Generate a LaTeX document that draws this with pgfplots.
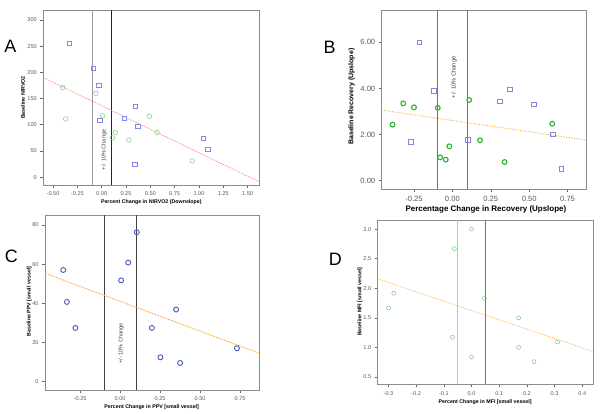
\documentclass[border=0pt]{standalone}
\usepackage{pgfplots}
\pgfplotsset{compat=1.18}
\usepackage{fontspec}
\setmainfont{Liberation Sans}
\definecolor{sqA}{RGB}{135,135,235}
\definecolor{cirA}{RGB}{115,210,115}
\definecolor{pinkA}{RGB}{255,120,135}
\definecolor{sqB}{RGB}{135,135,215}
\definecolor{cirB}{RGB}{40,180,40}
\definecolor{orng}{RGB}{255,170,60}
\definecolor{cirC}{RGB}{70,90,190}
\definecolor{cirD}{RGB}{115,205,115}
\pgfplotsset{
  spss/.style={scale only axis, anchor=south west,
    axis line style={draw=black!45, line width=0.6pt},
    tick align=outside, major tick length=3bp,
    xtick pos=bottom, ytick pos=left,
    tick style={black!60, line width=0.5pt},
    ticklabel style={font=\fontsize{5.6}{6}\selectfont, text=black!65},
    label style={font=\fontsize{5.3}{6}\selectfont\bfseries},
    xticklabel style={yshift=-0.5bp},
  },
}
\begin{document}
\begin{tikzpicture}
\useasboundingbox (0,0) rectangle (600bp,414bp);

% ---------------- A ----------------
\begin{axis}[spss, at={(43.3bp,229bp)}, width=216bp, height=175bp,
  xmin=-0.6, xmax=1.62, ymin=-15, ymax=319,
  xtick={-0.5,-0.25,0,0.25,0.5,0.75,1,1.25,1.5},
  xticklabels={-0.50,-0.25,0.00,0.25,0.50,0.75,1.00,1.25,1.50},
  ytick={0,50,100,150,200,250,300},
  yticklabels={0,50,100,150,200,250,300},
  xlabel={Percent Change in NIRVO2 (Downslope)},
  ylabel={Baseline NIRVO2},
  xlabel style={at={(axis description cs:0.5,-0.097)}, anchor=center},
  ylabel style={at={(axis description cs:-0.094,0.5)}, anchor=center},
]
\addplot[draw=black!40, line width=0.6pt] coordinates {(-0.1,-15) (-0.1,319)};
\addplot[draw=black!85, line width=0.7pt] coordinates {(0.1,-15) (0.1,319)};
\addplot[draw=pinkA, line width=0.6pt, dash pattern=on 1.5pt off 1pt] coordinates {(-0.6,190) (1.62,-9)};
\addplot[only marks, mark=square, mark size=2.1pt, draw=sqA, mark options={line width=0.5pt}] coordinates {
 (-0.33,255) (-0.09,208) (-0.03,175) (-0.02,109) (0.345,136) (0.23,113) (0.37,97) (0.34,25) (1.04,75) (1.09,53)};
\addplot[only marks, mark=o, mark size=2.3pt, draw=cirA, mark options={line width=0.5pt}] coordinates {
 (-0.40,171) (-0.37,111) (-0.06,160) (0.01,117) (0.14,85) (0.11,75) (0.28,71) (0.49,116) (0.57,85) (0.93,31)};
\node[rotate=90, font=\fontsize{5.6}{6}\selectfont, text=black!75] at (axis cs:0.025,52) {+/- 10\% Change};
\end{axis}

% ---------------- B ----------------
\begin{axis}[spss, at={(381.7bp,225bp)}, width=204.3bp, height=179bp,
  xmin=-0.46, xmax=0.87, ymin=-0.36, ymax=7.4,
  xtick={-0.25,0,0.25,0.5,0.75},
  xticklabels={-0.25,0.00,0.25,0.50,0.75},
  ytick={0,2,4,6},
  yticklabels={0.00,2.00,4.00,6.00},
  ticklabel style={font=\fontsize{7.6}{8}\selectfont, text=black!65},
  xlabel={Percentage Change in Recovery (Upslope)},
  ylabel={Baseline Recovery (Upslope)},
  xlabel style={font=\fontsize{8}{9}\selectfont\bfseries, at={(axis description cs:0.51,-0.112)}, anchor=center},
  ylabel style={font=\fontsize{7}{8}\selectfont\bfseries, at={(axis description cs:-0.147,0.516)}, anchor=center},
]
\addplot[draw=black!55, line width=0.6pt] coordinates {(-0.1,-0.36) (-0.1,7.4)};
\addplot[draw=black!55, line width=0.6pt] coordinates {(0.1,-0.36) (0.1,7.4)};
\addplot[draw=orng, line width=1pt, dash pattern=on 1pt off 1.6pt] coordinates {(-0.46,3.06) (0.87,1.76)};
\addplot[only marks, mark=square, mark size=2.3pt, draw=sqB, mark options={line width=0.5pt}] coordinates {
 (-0.215,6.0) (-0.12,3.89) (-0.27,1.68) (0.10,1.78) (0.31,3.44) (0.375,3.96) (0.53,3.31) (0.655,2.02) (0.71,0.53)};
\addplot[only marks, mark=o, mark size=2.4pt, draw=cirB, mark options={line width=1.1pt}] coordinates {
 (-0.39,2.43) (-0.32,3.35) (-0.25,3.18) (-0.095,3.16) (0.11,3.5) (-0.08,1.01) (-0.043,0.91) (-0.02,1.49) (0.18,1.75) (0.34,0.81) (0.65,2.47)};
\node[rotate=90, font=\fontsize{5.8}{6}\selectfont, text=black!75] at (axis cs:0.012,4.48) {+/- 10\% Change};
\end{axis}

% ---------------- C ----------------
\begin{axis}[spss, at={(45bp,24bp)}, width=214.3bp, height=175bp,
  xmin=-0.47, xmax=0.87, ymin=-4.3, ymax=85.1,
  xtick={-0.25,0,0.25,0.5,0.75},
  xticklabels={-0.25,0.00,0.25,0.50,0.75},
  ytick={0,20,40,60,80},
  yticklabels={0,20,40,60,80},
  xlabel={Percent Change in PPV [small vessel]},
  ylabel={Baseline PPV [small vessel]},
  xlabel style={at={(axis description cs:0.498,-0.099)}, anchor=center},
  ylabel style={at={(axis description cs:-0.073,0.505)}, anchor=center},
]
\addplot[draw=black!75, line width=0.7pt] coordinates {(-0.1,-4.3) (-0.1,85.1)};
\addplot[draw=black!75, line width=0.7pt] coordinates {(0.1,-4.3) (0.1,85.1)};
\addplot[draw=orng, line width=0.8pt, dash pattern=on 2pt off 1pt] coordinates {(-0.47,55.3) (0.87,14.5)};
\addplot[only marks, mark=o, mark size=2.5pt, draw=cirC, mark options={line width=0.9pt}] coordinates {
 (-0.356,57) (-0.333,40.7) (-0.28,27.4) (0.006,51.7) (0.05,60.8) (0.104,76.3) (0.198,27.4) (0.252,12.4) (0.35,36.8) (0.375,9.5) (0.73,17)};
\node[rotate=90, font=\fontsize{5.6}{6}\selectfont, text=black!75] at (axis cs:0.006,19.6) {+/- 10\% Change};
\end{axis}

% ---------------- D ----------------
\begin{axis}[spss, at={(377.7bp,29.7bp)}, width=215.6bp, height=164bp,
  xmin=-0.339, xmax=0.44, ymin=0.376, ymax=3.15,
  xtick={-0.3,-0.2,-0.1,0,0.1,0.2,0.3,0.4},
  xticklabels={-0.3,-0.2,-0.1,0.0,0.1,0.2,0.3,0.4},
  ytick={0.5,1,1.5,2,2.5,3},
  yticklabels={0.5,1.0,1.5,2.0,2.5,3.0},
  xlabel={Percent Change in MFI [small vessel]},
  ylabel={Baseline MFI [small vessel]},
  xlabel style={at={(axis description cs:0.498,-0.11)}, anchor=center},
  ylabel style={at={(axis description cs:-0.082,0.504)}, anchor=center},
]
\addplot[draw=black!25, line width=0.6pt] coordinates {(-0.05,0.376) (-0.05,3.15)};
\addplot[draw=black!55, line width=0.7pt] coordinates {(0.05,0.376) (0.05,3.15)};
\addplot[draw=orng, line width=0.8pt, dash pattern=on 0.9pt off 1.3pt] coordinates {(-0.339,2.16) (0.44,0.93)};
\addplot[only marks, mark=o, mark size=2pt, draw=cirD, mark options={line width=0.5pt}] coordinates {
 (0.0,3.0) (-0.062,2.67) (-0.281,1.917) (-0.3,1.668) (0.047,1.83) (-0.069,1.17) (0.0,0.84) (0.17,1.5) (0.17,1.0) (0.226,0.76) (0.311,1.09)};
\end{axis}

\node[font=\fontsize{18}{18}\selectfont] at (10.3bp,367.3bp) {A};
\node[font=\fontsize{18}{18}\selectfont] at (329.5bp,366.5bp) {B};
\node[font=\fontsize{18}{18}\selectfont] at (11.3bp,157.3bp) {C};
\node[font=\fontsize{18}{18}\selectfont] at (335.3bp,155bp) {D};
\end{tikzpicture}
\end{document}
